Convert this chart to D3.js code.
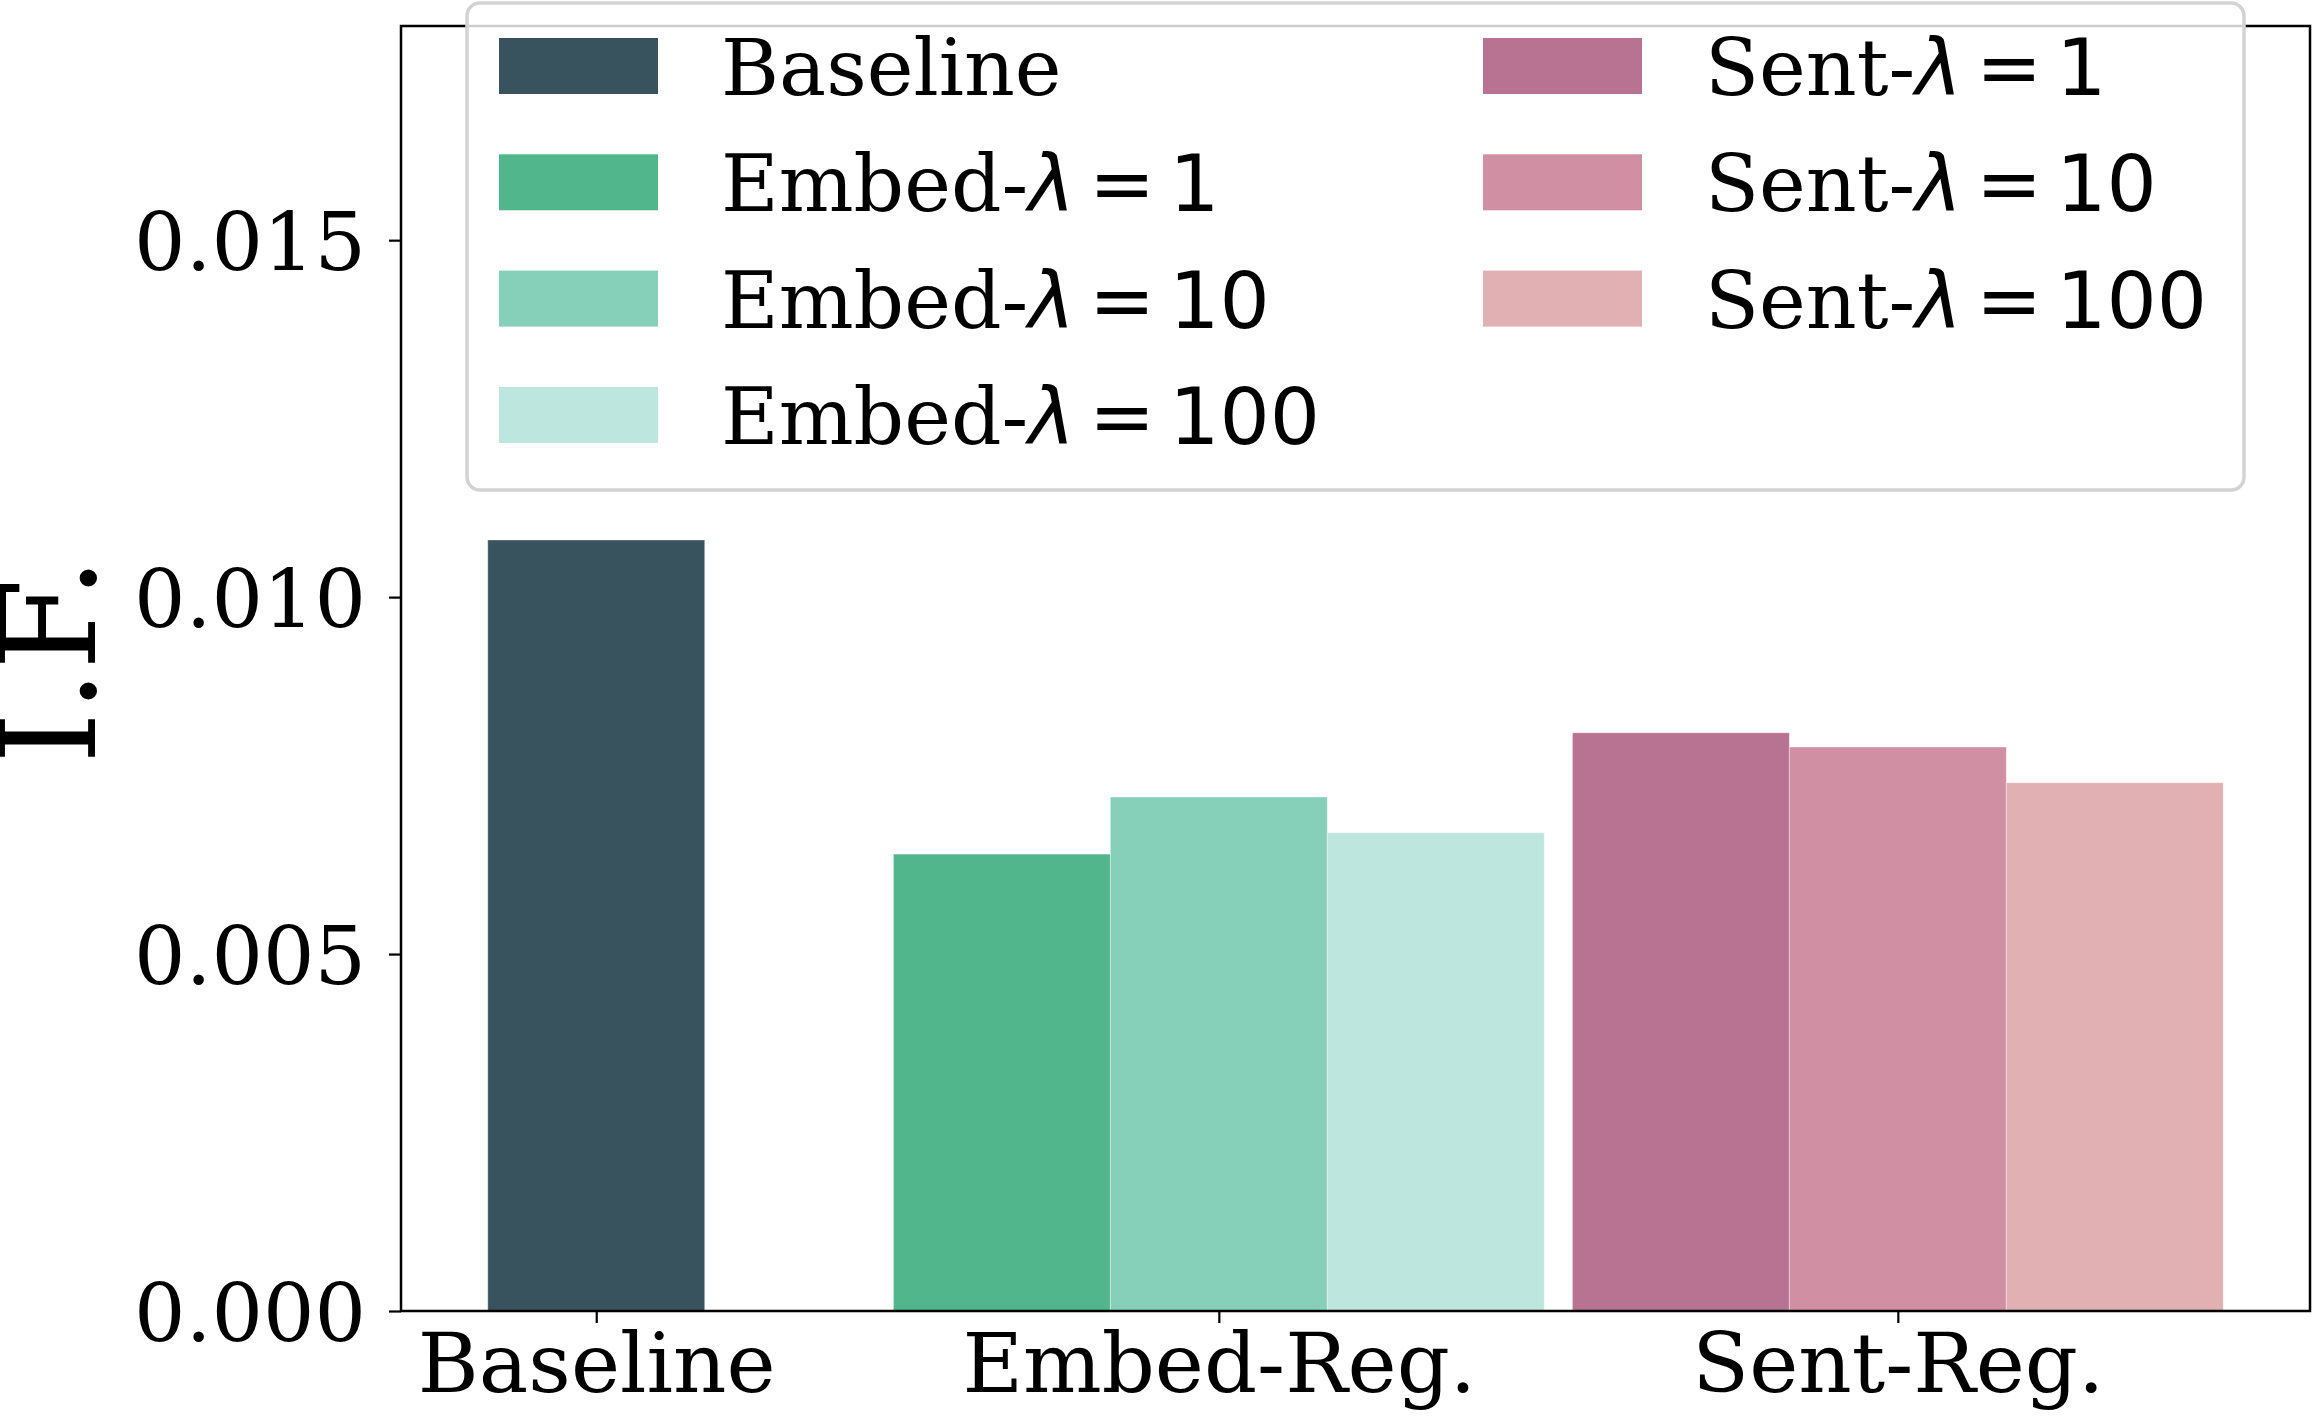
<!DOCTYPE html>
<html>
<head>
<meta charset="utf-8">
<script src="https://cdn.jsdelivr.net/npm/d3@7"></script>
<style>
  body { margin: 0; background: #fff; }
  text { font-family: "DejaVu Serif", serif; fill: #000; }
</style>
</head>
<body>
<div id="chart"></div>
<script>
// groups on the x axis and where their centre sits (in bar-width units)
const categories = ["Baseline", "Embed-Reg.", "Sent-Reg."];
const categoryPositions = [0, 2.87, 6.0];

// one entry per bar / legend item
const seriesPrefix = ["Baseline", "Embed-", "Embed-", "Embed-", "Sent-", "Sent-", "Sent-"];
const seriesLambda = [null, "1", "10", "100", "1", "10", "100"];
const seriesGroup = [0, 1, 1, 1, 2, 2, 2];
const seriesOffset = [0, -1, 0, 1, -1, 0, 1];
const seriesValues = [0.0108, 0.0064, 0.0072, 0.0067, 0.0081, 0.0079, 0.0074];
const seriesColors = ["#38535e", "#52b68c", "#86cfb9", "#bde6de", "#b87393", "#d08fa3", "#e1b0b3"];

const yTicks = [0, 0.005, 0.010, 0.015];
const yLabel = "I.F.";

const width = 2312, height = 1423;
const margin = { top: 26, right: 2, bottom: 112, left: 401 };
const innerWidth = width - margin.left - margin.right;
const innerHeight = height - margin.top - margin.bottom;

const svg = d3.select("#chart").append("svg")
  .attr("width", width)
  .attr("height", height);

const g = svg.append("g")
  .attr("transform", `translate(${margin.left},${margin.top})`);

const bars = seriesValues.map((v, i) => ({
  value: v,
  pos: categoryPositions[seriesGroup[i]] + seriesOffset[i],
  color: seriesColors[i]
}));

// matplotlib-style 5% margins around the bars
const lo = d3.min(bars, d => d.pos - 0.5), hi = d3.max(bars, d => d.pos + 0.5);
const pad = (hi - lo) * 0.05;
const x = d3.scaleLinear().domain([lo - pad, hi + pad]).range([0, innerWidth]);
const y = d3.scaleLinear().domain([0, 0.018]).range([innerHeight, 0]);

// bars
g.selectAll("rect.bar")
  .data(bars)
  .enter()
  .append("rect")
  .attr("class", "bar")
  .attr("x", d => x(d.pos - 0.5))
  .attr("width", d => x(d.pos + 0.5) - x(d.pos - 0.5))
  .attr("y", d => y(d.value))
  .attr("height", d => y(0) - y(d.value))
  .attr("fill", d => d.color)
  .attr("stroke", "#fff")
  .attr("stroke-opacity", 0.35)
  .attr("stroke-width", 1);

// axes
const xAxis = g.append("g")
  .attr("transform", `translate(0,${innerHeight})`)
  .call(d3.axisBottom(x)
    .tickValues(categoryPositions)
    .tickFormat((d, i) => categories[i])
    .tickSize(12)
    .tickPadding(12));

const yAxis = g.append("g")
  .call(d3.axisLeft(y)
    .tickValues(yTicks)
    .tickFormat(d3.format(".3f"))
    .tickSize(12)
    .tickPadding(23));

[xAxis, yAxis].forEach(ax => {
  ax.select(".domain").remove();
  ax.selectAll(".tick line").attr("stroke", "#000").attr("stroke-width", 2.2);
  ax.selectAll(".tick text")
    .style("font-family", "'DejaVu Serif', serif")
    .attr("fill", "#000");
});
xAxis.selectAll(".tick text").style("font-size", "83px").attr("dy", null).attr("y", 81);
yAxis.selectAll(".tick text").style("font-size", "81px").attr("dy", null).attr("y", 81 * 0.364);

// spines
g.append("rect")
  .attr("width", innerWidth)
  .attr("height", innerHeight)
  .attr("fill", "none")
  .attr("stroke", "#000")
  .attr("stroke-width", 2.5);

// y label
svg.append("text")
  .attr("transform", `translate(95,${margin.top + innerHeight / 2 - 8}) rotate(-90)`)
  .attr("text-anchor", "middle")
  .style("font-size", "132px")
  .text(yLabel);

// legend
const legend = svg.append("g");
legend.append("rect")
  .attr("x", 467).attr("y", 3)
  .attr("width", 1777).attr("height", 487)
  .attr("rx", 13)
  .attr("fill", "#fff").attr("fill-opacity", 0.8)
  .attr("stroke", "#d3d3d3").attr("stroke-width", 3.5);

const perCol = 4;
const items = legend.selectAll("g.item")
  .data(seriesColors.map((c, i) => ({ i, color: c })))
  .enter()
  .append("g")
  .attr("class", "item")
  .attr("transform", d => {
    const col = Math.floor(d.i / perCol), row = d.i % perCol;
    return `translate(${499 + col * 984},${38 + row * 116.3})`;
  });

items.append("rect")
  .attr("width", 159).attr("height", 56)
  .attr("fill", d => d.color);

const labels = items.append("text")
  .attr("x", 222).attr("y", 57)
  .style("font-size", "79px");

labels.append("tspan").text(d => seriesPrefix[d.i]);
labels.filter(d => seriesLambda[d.i] !== null)
  .append("tspan")
  .style("font-family", "'DejaVu Sans', sans-serif")
  .style("font-style", "italic")
  .text("λ");
labels.filter(d => seriesLambda[d.i] !== null)
  .append("tspan")
  .style("font-family", "'DejaVu Sans', sans-serif")
  .attr("dx", 14)
  .text(d => "=");
labels.filter(d => seriesLambda[d.i] !== null)
  .append("tspan")
  .style("font-family", "'DejaVu Sans', sans-serif")
  .attr("dx", 14)
  .text(d => seriesLambda[d.i]);
</script>
</body>
</html>
